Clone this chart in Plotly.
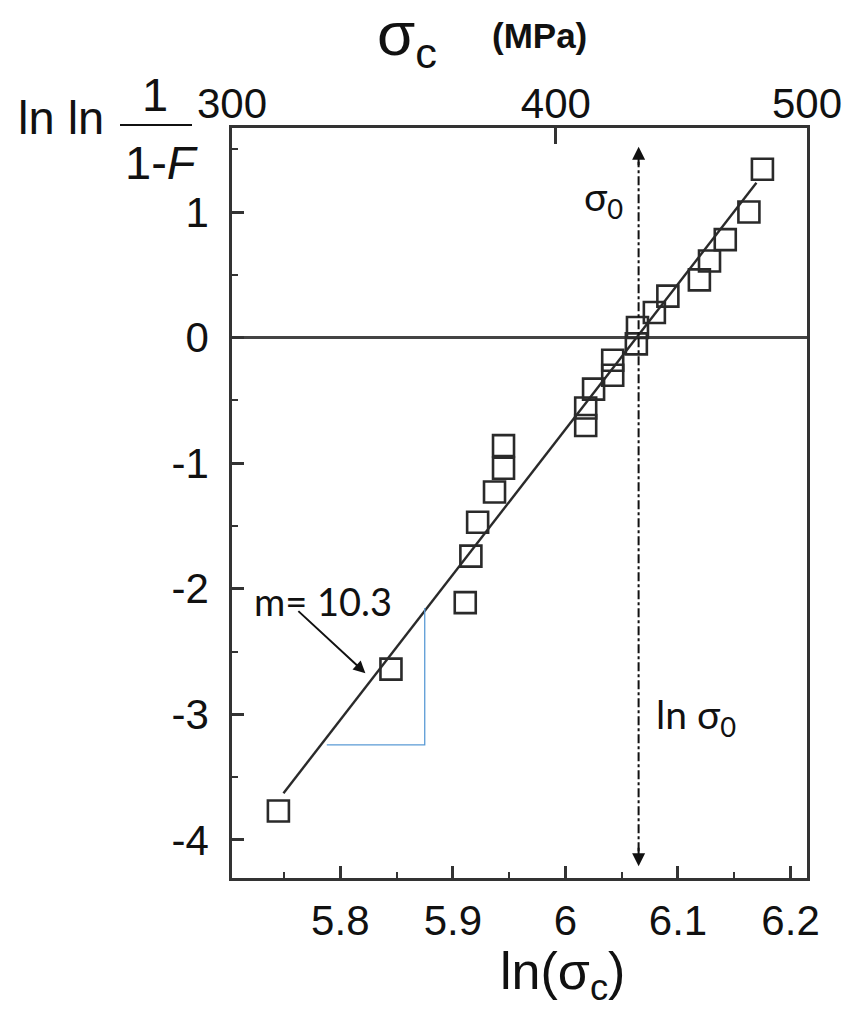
import numpy as np
import plotly.graph_objects as go

# ---- data ----
ln_sigma = [5.745, 5.845, 5.911, 5.916, 5.922, 5.937, 5.945, 5.945, 6.018, 6.018, 6.025,
            6.042, 6.042, 6.063, 6.064, 6.079, 6.091, 6.119, 6.128, 6.142, 6.163, 6.175]
lnln_F = [-3.77, -2.64, -2.11, -1.74, -1.47, -1.23, -1.04, -0.86, -0.70, -0.56, -0.41,
          -0.30, -0.18, -0.05, 0.08, 0.20, 0.33, 0.46, 0.61, 0.78, 1.00, 1.34]

fit_x = [5.7495, 6.1697]
fit_y = [-3.628, 1.233]

tri_x = [5.788, 5.875, 5.875]
tri_y = [-3.243, -3.243, -2.154]

sigma0_ln = 6.065
sigma0_y = [-4.21, 1.52]

x_ticks = [5.8, 5.9, 6.0, 6.1, 6.2]
x_ticktext = ["5.8", "5.9", "6", "6.1", "6.2"]
y_ticks = [-4, -3, -2, -1, 0, 1]
y_ticktext = ["-4", "-3", "-2", "-1", "0", "1"]
sigma_top_ticks = [300, 400, 500]

x_range = [float(np.log(300)), float(np.log(500))]
y_range = [-4.303, 1.669]

TXT = "#111111"
AX = "#333333"
SANS = "Liberation Sans, Arial, sans-serif"
TICKFONT = dict(family=SANS, size=42, color=TXT)
CAL = "Lato, Open Sans, sans-serif"

fig = go.Figure()

fig.add_trace(go.Scatter(x=fit_x, y=fit_y, mode="lines",
                         line=dict(color="#2a2a2a", width=2.4), hoverinfo="skip", showlegend=False))
fig.add_trace(go.Scatter(x=ln_sigma, y=lnln_F, mode="markers",
                         marker=dict(symbol="square-open", size=21, color="#2a2a2a",
                                     line=dict(width=2.6, color="#2a2a2a")),
                         showlegend=False))
fig.add_trace(go.Scatter(x=tri_x, y=tri_y, mode="lines",
                         line=dict(color="#5B9BD5", width=1.3), hoverinfo="skip", showlegend=False))
# dummy trace to host the top (sigma) axis
fig.add_trace(go.Scatter(x=[float(np.log(s)) for s in sigma_top_ticks], y=[0, 0, 0],
                         xaxis="x2", mode="markers", marker=dict(opacity=0),
                         hoverinfo="skip", showlegend=False))

# sigma_0 dash-dot vertical line
fig.add_shape(type="line", xref="x", yref="y", x0=sigma0_ln, x1=sigma0_ln,
              y0=sigma0_y[0] + 0.12, y1=sigma0_y[1] - 0.12,
              line=dict(color="#111111", width=2, dash="dashdot"))

W, H = 865, 1024
L, R, T, B = 232, 807, 128, 878


def px(xp):
    return (xp - L) / (R - L)


def py(yp):
    return (B - yp) / (B - T)


ann = []
# arrowheads of the sigma_0 line
ann.append(dict(x=sigma0_ln, y=sigma0_y[1], xref="x", yref="y", text="", showarrow=True,
                ax=0, ay=20, arrowhead=2, arrowsize=1.3, arrowwidth=2, arrowcolor="#111111"))
ann.append(dict(x=sigma0_ln, y=sigma0_y[0], xref="x", yref="y", text="", showarrow=True,
                ax=0, ay=-20, arrowhead=2, arrowsize=1.3, arrowwidth=2, arrowcolor="#111111"))
# slope arrow
ann.append(dict(x=5.8223, y=-2.672, xref="x", yref="y", ax=5.7614, ay=-2.167,
                axref="x", ayref="y", text="", showarrow=True, arrowhead=2,
                arrowsize=1.2, arrowwidth=2, arrowcolor="#111111"))
ann.append(dict(x=px(323), y=py(601), xref="paper", yref="paper", text="m= 10.3",
                showarrow=False, xanchor="center", yanchor="middle",
                font=dict(family=CAL, size=38, color="#111111")))
ann.append(dict(x=px(603), y=py(199), xref="paper", yref="paper", text="σ<sub>0</sub>",
                showarrow=False, xanchor="center", yanchor="middle",
                font=dict(family=CAL, size=39, color="#111111")))
ann.append(dict(x=px(696), y=py(717), xref="paper", yref="paper", text="ln σ<sub>0</sub>",
                showarrow=False, xanchor="center", yanchor="middle",
                font=dict(family=CAL, size=39, color="#111111")))
# top title
ann.append(dict(x=px(407), y=py(38), xref="paper", yref="paper", text="σ<sub>c</sub>",
                showarrow=False, xanchor="center", yanchor="middle",
                font=dict(family=SANS, size=62, color=TXT)))
ann.append(dict(x=px(539), y=py(36), xref="paper", yref="paper", text="<b>(MPa)</b>",
                showarrow=False, xanchor="center", yanchor="middle",
                font=dict(family=SANS, size=35, color=TXT)))
# left title (fraction)
ann.append(dict(x=px(61), y=py(118), xref="paper", yref="paper", text="ln ln",
                showarrow=False, xanchor="center", yanchor="middle",
                font=dict(family=SANS, size=47, color=TXT)))
ann.append(dict(x=px(155), y=py(95), xref="paper", yref="paper", text="1",
                showarrow=False, xanchor="center", yanchor="middle",
                font=dict(family=SANS, size=47, color=TXT)))
ann.append(dict(x=px(161), y=py(163), xref="paper", yref="paper", text="1-<i>F</i>",
                showarrow=False, xanchor="center", yanchor="middle",
                font=dict(family=SANS, size=47, color=TXT)))
# bottom title
ann.append(dict(x=px(562), y=py(975), xref="paper", yref="paper", text="ln(σ<sub>c</sub>)",
                showarrow=False, xanchor="center", yanchor="middle",
                font=dict(family=SANS, size=52, color=TXT)))

fig.add_shape(type="line", xref="paper", yref="paper", x0=px(120), x1=px(192),
              y0=py(125), y1=py(125), line=dict(color=TXT, width=2.2))

fig.update_layout(
    width=W, height=H,
    margin=dict(l=L, r=W - R, t=T, b=H - B),
    paper_bgcolor="white", plot_bgcolor="white",
    showlegend=False,
    annotations=ann,
    xaxis=dict(range=x_range, tickvals=x_ticks, ticktext=x_ticktext, ticks="inside",
               ticklen=12, tickwidth=2.5, tickcolor=AX, showline=True, linecolor=AX,
               linewidth=2.5, mirror=False, showgrid=False, zeroline=False,
               tickfont=TICKFONT, ticklabelstandoff=4,
               minor=dict(dtick=0.05, tick0=5.75, ticks="inside", ticklen=6,
                          tickwidth=2, tickcolor=AX, showgrid=False)),
    xaxis2=dict(range=x_range, overlaying="x", side="top", anchor="y",
                tickvals=[float(np.log(s)) for s in sigma_top_ticks],
                ticktext=[str(s) for s in sigma_top_ticks], ticks="inside", ticklen=16,
                tickwidth=2.5, tickcolor=AX, showline=True, linecolor=AX, linewidth=2.5,
                showgrid=False, zeroline=False, tickfont=TICKFONT, ticklabelstandoff=-10),
    yaxis=dict(range=y_range, tickvals=y_ticks, ticktext=y_ticktext, ticks="inside",
               ticklen=12, tickwidth=2.5,
               tickcolor=AX, showline=True, linecolor=AX, linewidth=2.5, mirror=True,
               showgrid=False, zeroline=True, zerolinecolor="#444444", zerolinewidth=2.5,
               tickfont=TICKFONT, ticklabelstandoff=12,
               minor=dict(dtick=0.5, ticks="inside", ticklen=6, tickwidth=2,
                          tickcolor=AX, showgrid=False)),
)

fig.write_html("out.html", config={"displayModeBar": False},
               post_script="document.body.style.margin='0px';document.body.style.padding='0px';")
